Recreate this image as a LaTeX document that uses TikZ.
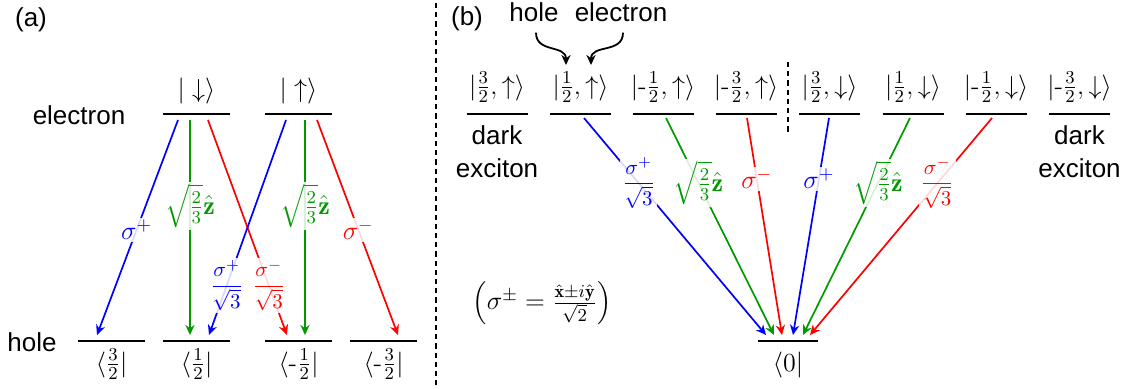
\RequirePackage{fix-cm}
\documentclass[tikz,border=0pt]{standalone}
\usepackage{amsmath}
\usepackage{fontspec}
\setsansfont{Liberation Sans}
\usetikzlibrary{arrows.meta,calc}
\definecolor{grn}{rgb}{0,0.6,0}
\begin{document}
\begin{tikzpicture}[x=0.5pt,y=-0.5pt,
  every node/.style={font=\fontsize{13}{16}\selectfont},
  txt/.style={font=\fontsize{13}{16.5}\selectfont\sffamily},
  lvl/.style={minimum width=#1, minimum height=0pt, inner sep=0pt, outer sep=0pt},
  lvlline/.style={line width=1.4pt},
  tr/.style={line width=0.85pt, -{Stealth[length=5pt,width=4.6pt,inset=1.6pt]}},
  curv/.style={line width=0.9pt, -{Stealth[length=5pt,width=4.6pt,inset=1.6pt]}},
  lab/.style={fill=white, fill opacity=0.85, text opacity=1, inner sep=1pt},
  flab/.style={lab, font=\fontsize{10.5}{12}\selectfont},
  divider/.style={line width=0.9pt, dash pattern=on 2.6pt off 2pt}]
\useasboundingbox (0,0) rectangle (1124,388);

% ---------------- panel (a) ----------------
\node[txt] (la) at (31,20) {(a)};
\node[txt] (telec) at (79,115) {electron};
\node[txt] (thole) at (32,342) {hole};

\node[lvl=33.5pt] (eD) at (196.5,114) {};
\node[lvl=33.5pt] (eU) at (298.5,114) {};
\node[lvl=33.5pt] (h3) at (111.5,341) {};
\node[lvl=33.5pt] (h1) at (196.5,341) {};
\node[lvl=33.5pt] (hm1) at (298.5,341) {};
\node[lvl=33.5pt] (hm3) at (383.5,341) {};
\foreach \n in {eD,eU,h3,h1,hm1,hm3} \draw[lvlline] (\n.west) -- (\n.east);

\node[anchor=base] (leD) at (196.5,97) {$|\downarrow\rangle$};
\node[anchor=base] (leU) at (298.5,97) {$|\uparrow\rangle$};
\node[anchor=base] (lh3) at (111.5,371) {$\langle\frac{3}{2}|$};
\node[anchor=base] (lh1) at (196.5,371) {$\langle\frac{1}{2}|$};
\node[anchor=base] (lhm1) at (298.5,371) {$\langle\mbox{-}\frac{1}{2}|$};
\node[anchor=base] (lhm3) at (383.5,371) {$\langle\mbox{-}\frac{3}{2}|$};

\draw[tr,blue] ($(eD)+(-18.5,6)$) -- node[lab,pos=0.51]{$\sigma^+$} ($(h3)+(-14.5,-6)$);
\draw[tr,grn] ($(eD)+(-6.5,6)$) -- node[lab,pos=0.4]{$\sqrt{\frac{2}{3}}\hat{\mathbf z}$} ($(h1)+(-6.5,-6)$);
\draw[tr,red] ($(eD)+(11.5,6)$) -- node[flab,pos=0.77]{$\dfrac{\sigma^-}{\sqrt3}$} ($(hm1)+(-11.5,-6)$);
\draw[tr,blue] ($(eU)+(-12.5,6)$) -- node[flab,pos=0.77]{$\dfrac{\sigma^+}{\sqrt3}$} ($(h1)+(12.5,-6)$);
\draw[tr,grn] ($(eU)+(6.5,6)$) -- node[lab,pos=0.4]{$\sqrt{\frac{2}{3}}\hat{\mathbf z}$} ($(hm1)+(6.5,-6)$);
\draw[tr,red] ($(eU)+(18.5,6)$) -- node[lab,pos=0.51]{$\sigma^-$} ($(hm3)+(14.5,-6)$);

% divider
\draw[divider] (436,3) -- (436,385);

% ---------------- panel (b) ----------------
\node[txt] (lb) at (467,19) {(b)};
\node[txt,anchor=base,inner sep=0pt] (thl) at (534,21) {hole};
\node[txt,anchor=base,inner sep=0pt] (tel) at (621,21) {electron};

\node[lvl=30.5pt] (x1) at (497,114) {};
\node[lvl=30.5pt] (x2) at (580.5,114) {};
\node[lvl=30.5pt] (x3) at (663,114) {};
\node[lvl=30.5pt] (x4) at (746,114) {};
\node[lvl=30.5pt] (x5) at (829.5,114) {};
\node[lvl=30.5pt] (x6) at (913,114) {};
\node[lvl=30.5pt] (x7) at (996,114) {};
\node[lvl=30.5pt] (x8) at (1079.5,114) {};
\node[lvl=30pt] (g0) at (788,341) {};
\foreach \n in {x1,x2,x3,x4,x5,x6,x7,x8,g0} \draw[lvlline] (\n.west) -- (\n.east);

\node[anchor=base] (lx1) at (497,94) {$|\frac{3}{2},\uparrow\rangle$};
\node[anchor=base] (lx2) at (580.5,94) {$|\frac{1}{2},\uparrow\rangle$};
\node[anchor=base] (lx3) at (663,94) {$|\mbox{-}\frac{1}{2},\uparrow\rangle$};
\node[anchor=base] (lx4) at (746,94) {$|\mbox{-}\frac{3}{2},\uparrow\rangle$};
\node[anchor=base] (lx5) at (829.5,94) {$|\frac{3}{2},\downarrow\rangle$};
\node[anchor=base] (lx6) at (913,94) {$|\frac{1}{2},\downarrow\rangle$};
\node[anchor=base] (lx7) at (996,94) {$|\mbox{-}\frac{1}{2},\downarrow\rangle$};
\node[anchor=base] (lx8) at (1079.5,94) {$|\mbox{-}\frac{3}{2},\downarrow\rangle$};
\node[anchor=base] (lg0) at (788,371) {$\langle0|$};

\node[txt,align=center] (dk1) at (497,152) {dark\\exciton};
\node[txt,align=center] (dk8) at (1079.5,152) {dark\\exciton};

\coordinate (tipH) at (566,65);
\coordinate (tipE) at (591,65);
\draw[curv] ($(thl.south)+(2,11)$) to[out=-90,in=90,looseness=1.2] (tipH);
\draw[curv] ($(tel.south)+(2,11)$) to[out=-90,in=90,looseness=1.2] (tipE);

\draw[divider] (788,62) -- (788,132);

\draw[tr,blue] ($(x2)+(3.5,4)$) -- node[flab,pos=0.3]{$\dfrac{\sigma^+}{\sqrt3}$} ($(g0)+(-22,-6)$);
\draw[tr,grn] ($(x3)+(3,4)$) -- node[lab,pos=0.3]{$\sqrt{\frac{2}{3}}\hat{\mathbf z}$} ($(g0)+(-14,-6)$);
\draw[tr,red] ($(x4)+(1,4)$) -- node[lab,pos=0.28]{$\sigma^-$} ($(g0)+(-6,-6)$);
\draw[tr,blue] ($(x5)+(-0.5,4)$) -- node[lab,pos=0.28]{$\sigma^+$} ($(g0)+(5,-6)$);
\draw[tr,grn] ($(x6)+(-3,4)$) -- node[lab,pos=0.3]{$\sqrt{\frac{2}{3}}\hat{\mathbf z}$} ($(g0)+(15,-6)$);
\draw[tr,red] ($(x7)+(-4,4)$) -- node[flab,pos=0.3]{$\dfrac{\sigma^-}{\sqrt3}$} ($(g0)+(22,-6)$);

\node (form) at (542,303) {$\left(\sigma^\pm=\frac{\hat{\mathbf x}\pm i\hat{\mathbf y}}{\sqrt2}\right)$};
\end{tikzpicture}
\end{document}
